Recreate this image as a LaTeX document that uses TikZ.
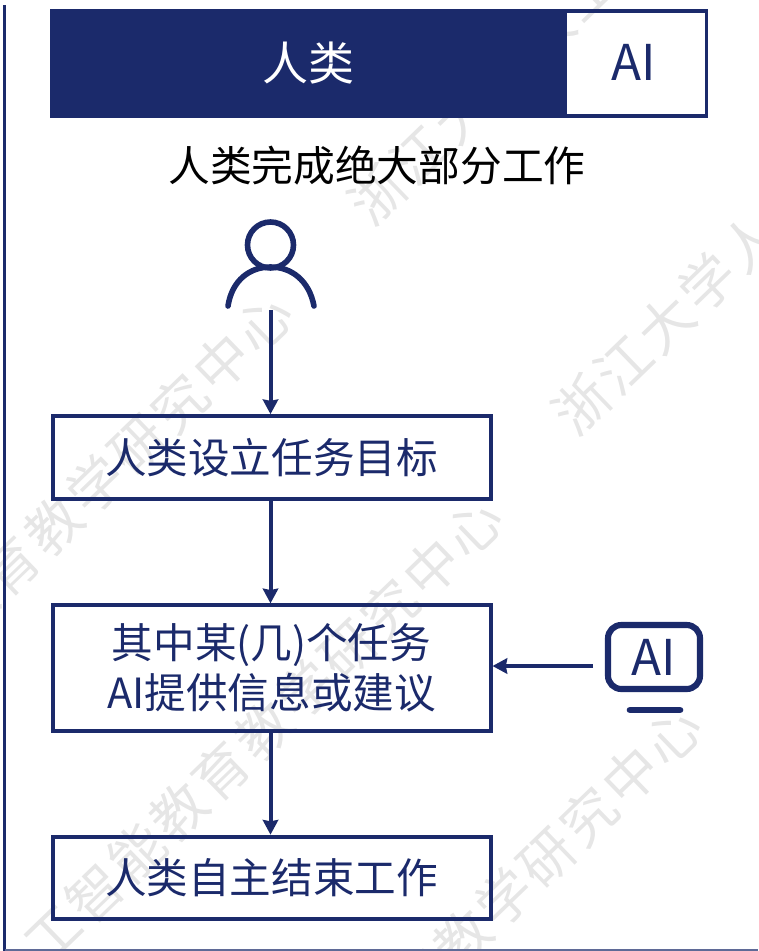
\documentclass[tikz,border=0pt]{standalone}
\usepackage{fontspec}
\setmainfont{Noto Sans CJK SC}
\newfontfamily\markfont[LetterSpace=7]{Noto Sans CJK SC}
\usetikzlibrary{arrows}
\usetikzlibrary{arrows.meta}
\definecolor{navy}{HTML}{1B2A6B}
\definecolor{markgray}{HTML}{E6E6E6}

\begin{document}
\begin{tikzpicture}[x = 0.75pt, y = -0.75pt, >={Stealth[length=11pt, width=11.5pt, inset=1pt]}]
    \tikzset{
        wmark/.style={text=markgray, rotate=44, font=\markfont\fontsize{41}{41}\selectfont},
        taskbox/.style={draw=navy, line width=3pt, minimum width=328.5pt, align=center, text=navy,
            inner sep=0pt, font=\fontsize{31.2}{37.5}\selectfont},
        link/.style={draw=navy, line width=3pt, ->}
    }
    \useasboundingbox (0,0) rectangle (758,951);
    \clip (0,0) rectangle (758,951);

    % watermark
    \node [wmark] (markA) at (-52,627) {浙江大学人工智能教育教学研究中心};
    \node [wmark] (markB) at (693,-110) {浙江大学人工智能教育教学研究中心};
    \node [wmark] (markC) at (158,832) {浙江大学人工智能教育教学研究中心};
    \node [wmark] (markD) at (897,100) {浙江大学人工智能教育教学研究中心};
    \node [wmark] (markE) at (357,1040) {浙江大学人工智能教育教学研究中心};

    % frame
    \draw [navy, line width=2.8pt] (4.5,5) -- (4.5,951);
    \draw [navy!70, line width=1.2pt] (4.5,950) -- (758,950);

    % share bar
    \node [fill=navy, draw=navy, line width=2.6pt, minimum width=385pt, minimum height=79pt, inner sep=0pt,
        text=white, font=\fontsize{34.5}{34.5}\selectfont] (humanbar) at (308.5,63.5) {\raisebox{1pt}{人类}};
    \node [draw=navy, line width=2.6pt, minimum width=106pt, minimum height=79pt, inner sep=0pt,
        text=navy, font=\fontsize{37}{37}\selectfont] (aibar) at (636,63.5) {\hspace{-4pt}\raisebox{2pt}{AI}};
    \node [font=\fontsize{31.3}{31.3}\selectfont] (title) at (377,166) {人类完成绝大部分工作};

    % person
    \draw [navy, line width=4.2pt] (270.5,245) ellipse (23 and 23);
    \draw [navy, line width=4.2pt, line cap=round] (228,306) .. controls (232,280) and (250,267) .. (270.5,267)
        .. controls (291,267) and (309,280) .. (314,306);
    \coordinate (personfoot) at (270.5,310);

    % steps
    \node [taskbox, minimum height=62pt] (goal) at (271.5,457.5) {人类设立任务目标};
    \node [taskbox, minimum height=94pt] (assist) at (271.5,668) {其中某(几)个任务\\AI提供信息或建议};
    \node [taskbox, minimum height=62pt] (finish) at (271.5,878) {人类自主结束工作};

    % monitor
    \node [draw=navy, line width=4.6pt, rounded corners=10pt, minimum width=69pt, minimum height=48pt, inner sep=0pt,
        text=navy, font=\fontsize{37}{37}\selectfont] (monitor) at (654,657) {AI};
    \coordinate (standL) at (630,710);
    \coordinate (standR) at (680,710);
    \draw [navy, line width=5pt, line cap=round] (standL) -- (standR);
    \coordinate (monitorout) at (593,666);

    \draw [link] (personfoot) -- (personfoot |- goal.north);
    \draw [link] (goal.south -| personfoot) -- (assist.north -| personfoot);
    \draw [link] (assist.south -| personfoot) -- (finish.north -| personfoot);
    \draw [link] (monitorout) -- (monitorout -| assist.east);
\end{tikzpicture}
\end{document}
